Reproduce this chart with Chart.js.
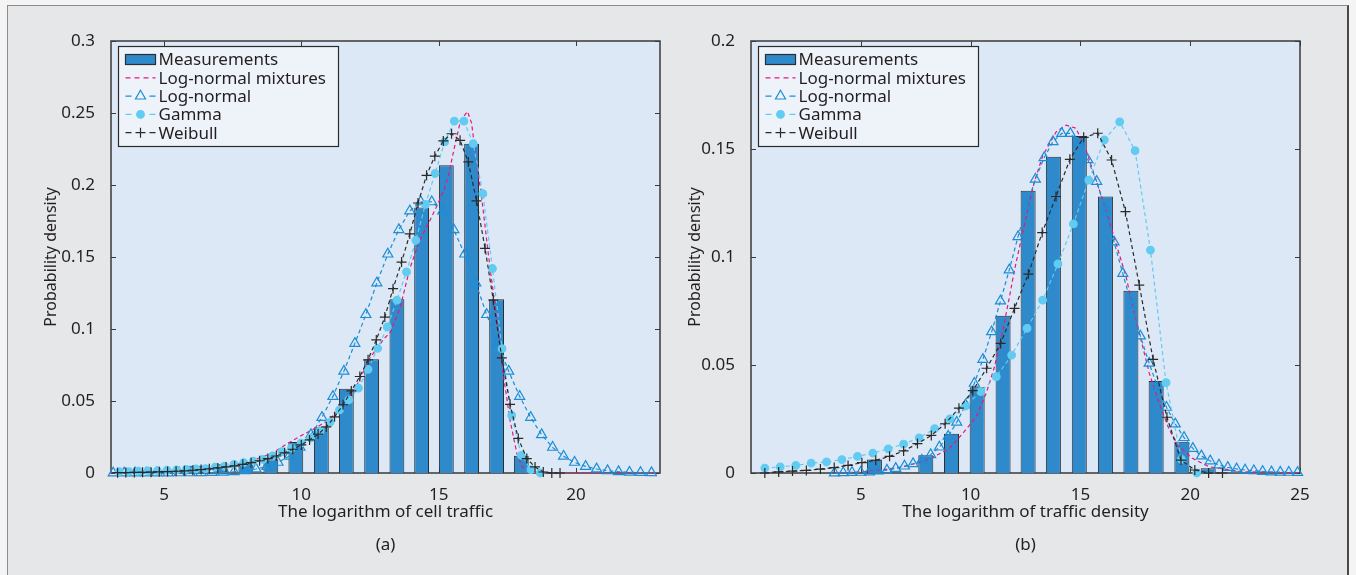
<!DOCTYPE html>
<html>
<head>
<meta charset="utf-8">
<title>Probability density fits</title>
<script src="https://cdn.jsdelivr.net/npm/chart.js@4.4.1/dist/chart.umd.min.js"></script>
<style>
  html, body { margin: 0; padding: 0; background: #f4f4f4; overflow: hidden; }
  #frame { position: absolute; left: 7px; top: 5px; width: 1339px; height: 620px;
           background: #e6e7e8; border: 1px solid #8c8c8c; border-right: 2px solid #4a4a4a; }
  canvas { position: absolute; top: 0; }
  #chartA { left: 20px; }
  #chartB { left: 680px; }
</style>
</head>
<body>
<div id="frame"></div>
<canvas id="chartA" width="660" height="575"></canvas>
<canvas id="chartB" width="640" height="575"></canvas>

<script>
// ---------- panel (a): cell traffic ----------
var xTicksA = [5, 10, 15, 20];
var yTicksA = [0, 0.05, 0.1, 0.15, 0.2, 0.25, 0.3];

var binsA = [3.42, 4.33, 5.24, 6.16, 7.07, 7.98, 8.89, 9.80, 10.73, 11.64, 12.56, 13.48, 14.38, 15.28, 16.20, 17.11, 18.01];
var measA = [0.0004, 0.0005, 0.0015, 0.005, 0.006, 0.007, 0.0095, 0.0215, 0.0317, 0.0585, 0.079, 0.1206, 0.1844, 0.2137, 0.2287, 0.1206, 0.012];

var mixA_x = [3.07, 4, 5, 6, 7, 7.5, 8, 8.5, 9, 9.5, 10, 10.5, 11, 11.5, 12, 12.5, 13, 13.25, 13.6, 13.95, 14.3, 14.7, 14.95, 15.2, 15.35, 15.55, 15.8, 16.05, 16.2, 16.4, 16.55, 16.75, 16.9, 17.1, 17.35, 17.6, 17.85, 18.05, 18.3, 18.6, 19, 20, 21, 22, 23.06];
var mixA_y = [0.0003, 0.0006, 0.0012, 0.0022, 0.004, 0.0055, 0.0075, 0.0105, 0.0145, 0.0205, 0.026, 0.031, 0.037, 0.046, 0.06, 0.08, 0.093, 0.098, 0.115, 0.142, 0.161, 0.176, 0.186, 0.197, 0.206, 0.224, 0.245, 0.251, 0.243, 0.2125, 0.194, 0.1616, 0.138, 0.110, 0.069, 0.0366, 0.0134, 0.004, 0.0012, 0.0003, 0, 0, 0, 0, 0];

var lnA_x = [3.15, 3.55, 3.95, 4.35, 4.75, 5.15, 5.55, 5.95, 6.35, 6.75, 7.15, 7.55, 7.95, 8.35, 8.75, 9.15, 9.55, 9.95, 10.35, 10.75, 11.15, 11.55, 11.95, 12.35, 12.75, 13.15, 13.55, 13.95, 14.35, 14.75, 15.15, 15.55, 15.95, 16.35, 16.75, 17.15, 17.55, 17.95, 18.35, 18.75, 19.15, 19.55, 19.95, 20.35, 20.75, 21.15, 21.55, 21.95, 22.35, 22.75];
var lnA_y = [0, 0, 0, 0, 0, 0, 0.0001, 0.0001, 0.0002, 0.0003, 0.0005, 0.0009, 0.0016, 0.0028, 0.0046, 0.0074, 0.0116, 0.0178, 0.0266, 0.0386, 0.0532, 0.0707, 0.090, 0.110, 0.132, 0.152, 0.169, 0.182, 0.1883, 0.1883, 0.182, 0.169, 0.152, 0.132, 0.110, 0.090, 0.0707, 0.0532, 0.0386, 0.0266, 0.0178, 0.0116, 0.0074, 0.0046, 0.0028, 0.0016, 0.0009, 0.0005, 0.0003, 0.0002];

var gamA_x = [3.37, 3.72, 4.07, 4.42, 4.76, 5.11, 5.46, 5.81, 6.16, 6.51, 6.86, 7.20, 7.55, 7.90, 8.25, 8.60, 8.95, 9.29, 9.64, 9.99, 10.34, 10.69, 11.04, 11.39, 11.73, 12.08, 12.43, 12.78, 13.13, 13.48, 13.83, 14.17, 14.52, 14.87, 15.22, 15.57, 15.92, 16.26, 16.61, 16.96, 17.31, 17.66, 18.01, 18.36, 18.70];
var gamA_y = [0.0009, 0.0009, 0.0012, 0.0014, 0.0016, 0.0020, 0.0022, 0.0025, 0.0028, 0.0031, 0.0040, 0.0047, 0.0060, 0.0072, 0.0082, 0.0095, 0.0118, 0.0148, 0.0173, 0.0208, 0.0243, 0.0293, 0.0351, 0.0439, 0.0508, 0.0590, 0.0720, 0.0866, 0.1014, 0.1200, 0.1396, 0.1616, 0.1866, 0.2080, 0.2300, 0.2444, 0.2444, 0.2287, 0.1940, 0.1420, 0.0863, 0.0400, 0.0123, 0.0023, 0];

var weiA_x = [3.31, 3.61, 3.92, 4.22, 4.53, 4.83, 5.13, 5.44, 5.74, 6.05, 6.35, 6.65, 6.96, 7.26, 7.57, 7.87, 8.17, 8.48, 8.78, 9.09, 9.39, 9.69, 10.00, 10.30, 10.61, 10.91, 11.21, 11.52, 11.82, 12.13, 12.43, 12.73, 13.04, 13.34, 13.65, 13.95, 14.25, 14.56, 14.86, 15.17, 15.47, 15.78, 16.08, 16.38, 16.69, 16.99, 17.30, 17.60, 17.90, 18.21, 18.51, 18.81, 19.12, 19.42];
var weiA_y = [0.0002, 0.0003, 0.0004, 0.0005, 0.0006, 0.0008, 0.0010, 0.0012, 0.0015, 0.0019, 0.0024, 0.0029, 0.0035, 0.0042, 0.0050, 0.0060, 0.0072, 0.0085, 0.0100, 0.0118, 0.0140, 0.0165, 0.0195, 0.0230, 0.0270, 0.0320, 0.0390, 0.0474, 0.0570, 0.0670, 0.0786, 0.0924, 0.1083, 0.1280, 0.1465, 0.1660, 0.1875, 0.2067, 0.2200, 0.2306, 0.2356, 0.2310, 0.2160, 0.1890, 0.1560, 0.1200, 0.0800, 0.0477, 0.0240, 0.0100, 0.0042, 0.0007, 0, 0];

// ---------- panel (b): traffic density ----------
var xTicksB = [5, 10, 15, 20, 25];
var yTicksB = [0, 0.05, 0.1, 0.15, 0.2];

var binsB = [4.45, 5.62, 6.79, 7.96, 9.13, 10.30, 11.48, 12.62, 13.77, 14.95, 16.14, 17.30, 18.45, 19.62, 20.82];
var measB = [0.0003, 0.0062, 0.0004, 0.0082, 0.0182, 0.0397, 0.0728, 0.1307, 0.1464, 0.1560, 0.1280, 0.0844, 0.0426, 0.0145, 0.0022];

var mixB_x = [3.8, 5, 6, 7, 8, 9, 9.65, 10.26, 10.71, 11.09, 11.44, 11.74, 12.0, 12.3, 12.6, 12.91, 13.29, 13.9, 14.35, 14.8, 15.26, 15.71, 16.17, 16.62, 17.08, 17.38, 17.76, 18.14, 18.59, 19.05, 19.5, 20.1, 20.86, 22.38, 24.9];
var mixB_y = [0, 0.0005, 0.0015, 0.003, 0.006, 0.011, 0.0184, 0.026, 0.0369, 0.0492, 0.0647, 0.080, 0.094, 0.108, 0.1218, 0.135, 0.147, 0.158, 0.161, 0.1596, 0.1495, 0.1356, 0.1218, 0.1063, 0.0909, 0.077, 0.0616, 0.0461, 0.0323, 0.0199, 0.0122, 0.0068, 0.0029, 0.0006, 0];

var lnB_x = [3.80, 4.20, 4.60, 5.00, 5.39, 5.79, 6.19, 6.59, 6.99, 7.38, 7.78, 8.18, 8.58, 8.98, 9.37, 9.77, 10.17, 10.56, 10.96, 11.36, 11.76, 12.16, 12.55, 12.95, 13.35, 13.75, 14.15, 14.54, 14.94, 15.34, 15.74, 16.14, 16.53, 16.93, 17.33, 17.73, 18.13, 18.52, 18.92, 19.32, 19.72, 20.12, 20.51, 20.91, 21.31, 21.71, 22.11, 22.50, 22.90, 23.30, 23.70, 24.10, 24.49, 24.89];
var lnB_y = [0, 0.0001, 0.0002, 0.0003, 0.0005, 0.0009, 0.0013, 0.0021, 0.0032, 0.0043, 0.0059, 0.0085, 0.0120, 0.0170, 0.0235, 0.0315, 0.0415, 0.0526, 0.0654, 0.0796, 0.0940, 0.1094, 0.1236, 0.1360, 0.1460, 0.1534, 0.1572, 0.1572, 0.1526, 0.1450, 0.1350, 0.1218, 0.1070, 0.0924, 0.0778, 0.0634, 0.0508, 0.0397, 0.0304, 0.0227, 0.0164, 0.0114, 0.0079, 0.0056, 0.0037, 0.0026, 0.0019, 0.0014, 0.0010, 0.0007, 0.0005, 0.0004, 0.0003, 0.0002];

var gamB_x = [0.63, 1.33, 2.04, 2.74, 3.44, 4.14, 4.85, 5.55, 6.25, 6.95, 7.66, 8.36, 9.06, 9.76, 10.47, 11.17, 11.87, 12.57, 13.28, 13.98, 14.68, 15.38, 16.09, 16.79, 17.49, 18.19, 18.90, 19.60, 20.30];
var gamB_y = [0.0023, 0.0028, 0.0035, 0.0046, 0.0051, 0.0062, 0.0077, 0.0092, 0.0112, 0.0134, 0.0163, 0.0205, 0.0251, 0.0310, 0.0377, 0.0446, 0.0546, 0.0670, 0.0800, 0.0968, 0.1153, 0.1356, 0.1542, 0.1626, 0.1492, 0.1032, 0.0418, 0.0063, 0];

var weiB_x = [0.63, 1.26, 1.89, 2.52, 3.16, 3.79, 4.42, 5.05, 5.68, 6.31, 6.95, 7.58, 8.21, 8.84, 9.47, 10.10, 10.73, 11.37, 12.00, 12.63, 13.26, 13.89, 14.52, 15.15, 15.79, 16.42, 17.05, 17.68, 18.31, 18.94, 19.58, 20.21, 20.84, 21.47];
var weiB_y = [0, 0.0005, 0.0009, 0.0012, 0.0018, 0.0025, 0.0035, 0.0048, 0.0059, 0.0077, 0.0102, 0.0136, 0.0174, 0.0228, 0.0300, 0.0381, 0.0485, 0.0600, 0.0762, 0.0921, 0.1113, 0.1280, 0.1452, 0.1554, 0.1573, 0.1449, 0.1210, 0.0870, 0.0526, 0.0258, 0.0060, 0.0014, 0, 0];

// ---------- drawing ----------
var FONT = "'Noto Sans', sans-serif";
var INK = '#231f20';
Chart.defaults.font.family = FONT;
Chart.defaults.color = INK;

function pts(xs, ys) {
    return xs.map(function(x, i) { return {x: x, y: ys[i]}; });
}

function lineSet(label, xs, ys, color, style, radius, fillPt, order) {
    return {
        type: 'line', label: label, data: pts(xs, ys), order: order,
        borderColor: color, borderWidth: 1.2, borderDash: [4, 3],
        pointStyle: style, pointRadius: radius, pointHoverRadius: radius,
        pointBorderColor: color, pointBackgroundColor: fillPt ? color : 'rgba(0,0,0,0)',
        pointBorderWidth: 1.2, fill: false, tension: 0, clip: false
    };
}

// plot background, box, inner ticks and legend, MATLAB style
var panelDecor = {
    id: 'panelDecor',
    beforeDraw: function(chart, args, opts) {
        var ctx = chart.ctx, a = chart.chartArea;
        ctx.save();
        ctx.fillStyle = '#dce8f5';
        ctx.fillRect(a.left, a.top, a.right - a.left, a.bottom - a.top);
        ctx.restore();
    },
    beforeDatasetsDraw: function(chart, args, opts) {
        var ctx = chart.ctx, a = chart.chartArea;
        var xs = chart.scales.x, ys = chart.scales.y;
        ctx.save();
        ctx.strokeStyle = '#3a3a3a';
        ctx.lineWidth = 1;
        ctx.beginPath();
        opts.xTicks.forEach(function(v) {
            var px = Math.round(xs.getPixelForValue(v)) + 0.5;
            ctx.moveTo(px, a.bottom); ctx.lineTo(px, a.bottom - 5);
            ctx.moveTo(px, a.top); ctx.lineTo(px, a.top + 5);
        });
        opts.yTicks.forEach(function(v) {
            var py = Math.round(ys.getPixelForValue(v)) + 0.5;
            ctx.moveTo(a.left, py); ctx.lineTo(a.left + 5, py);
            ctx.moveTo(a.right, py); ctx.lineTo(a.right - 5, py);
        });
        ctx.stroke();
        ctx.lineWidth = 1.5;
        ctx.strokeRect(a.left, a.top, a.right - a.left, a.bottom - a.top);
        ctx.restore();
    },
    afterDatasetsDraw: function(chart, args, opts) {
        var ctx = chart.ctx, a = chart.chartArea;
        var bx = Math.round(a.left + 7) + 0.5, by = Math.round(a.top + 5) + 0.5, bw = 220, bh = 100;
        ctx.save();
        ctx.fillStyle = '#eef3fa';
        ctx.fillRect(bx, by, bw, bh);
        ctx.strokeStyle = '#2b2b2b';
        ctx.lineWidth = 1.2;
        ctx.strokeRect(bx, by, bw, bh);
        ctx.font = '17px ' + FONT;
        ctx.textBaseline = 'middle';
        chart.data.datasets.forEach(function(ds, i) {
            var cy = by + 13 + i * 18.3;
            var x0 = bx + 7, x1 = bx + 37;
            if (ds.type === 'bar') {
                ctx.fillStyle = ds.backgroundColor;
                ctx.fillRect(x0, cy - 5, 30, 10);
                ctx.strokeStyle = ds.borderColor;
                ctx.lineWidth = 1.2;
                ctx.strokeRect(x0, cy - 5, 30, 10);
            } else {
                ctx.strokeStyle = ds.borderColor;
                ctx.lineWidth = ds.borderWidth;
                ctx.beginPath();
                if (ds.pointRadius > 0) {
                    ctx.moveTo(x0, cy); ctx.lineTo(x0 + 6, cy);
                    ctx.moveTo(x1 - 6, cy); ctx.lineTo(x1, cy);
                } else {
                    ctx.setLineDash([5, 4]);
                    ctx.moveTo(x0, cy); ctx.lineTo(x1, cy);
                }
                ctx.stroke();
                ctx.setLineDash([]);
                if (ds.pointRadius > 0) {
                    ctx.fillStyle = ds.pointBackgroundColor;
                    ctx.strokeStyle = ds.pointBorderColor;
                    ctx.lineWidth = ds.pointBorderWidth;
                    Chart.helpers.drawPoint(ctx, {pointStyle: ds.pointStyle, radius: ds.pointRadius,
                        rotation: 0, borderWidth: ds.pointBorderWidth}, (x0 + x1) / 2, cy);
                }
            }
            ctx.fillStyle = INK;
            ctx.fillText(ds.label, bx + 40, cy + 1);
        });
        ctx.restore();
    }
};

function makePanel(id, p) {
    var datasets = [
        {type: 'bar', label: 'Measurements', data: pts(p.bins, p.meas), order: 10,
         backgroundColor: '#2f8acb', borderColor: '#2e2e2e', borderWidth: 1,
         barPercentage: 0.6, categoryPercentage: 1},
        lineSet('Log-normal mixtures', p.mix_x, p.mix_y, '#e8177d', 'circle', 0, false, 4),
        lineSet('Log-normal', p.ln_x, p.ln_y, '#1b8dd6', 'triangle', 5.8, false, 3),
        lineSet('Gamma', p.gam_x, p.gam_y, '#62cbf2', 'circle', 3.8, true, 2),
        lineSet('Weibull', p.wei_x, p.wei_y, '#2a2a2a', 'cross', 5, false, 1)
    ];
    return new Chart(document.getElementById(id), {
        type: 'bar',
        data: {datasets: datasets},
        plugins: [panelDecor],
        options: {
            responsive: false,
            animation: false,
            events: [],
            layout: {padding: {top: 41, right: 20, left: 0, bottom: 0}},
            plugins: {
                legend: {display: false},
                tooltip: {enabled: false},
                panelDecor: {xTicks: p.xTicks, yTicks: p.yTicks}
            },
            scales: {
                x: {
                    type: 'linear', min: p.xMin, max: p.xMax, offset: false,
                    grid: {display: false}, border: {display: false},
                    afterBuildTicks: function(s) { s.ticks = p.xTicks.map(function(v) { return {value: v}; }); },
                    afterFit: function(s) { s.height = 102; },
                    ticks: {font: {size: 17}, padding: 4, maxRotation: 0, autoSkip: false,
                            callback: function(v) { return String(v); }},
                    title: {display: true, text: [p.xTitle, p.tag],
                            font: {size: 17, lineHeight: '33px'}, padding: {top: 0, bottom: 13}}
                },
                y: {
                    type: 'linear', min: 0, max: p.yMax,
                    grid: {display: false}, border: {display: false},
                    afterBuildTicks: function(s) { s.ticks = p.yTicks.map(function(v) { return {value: v}; }); },
                    afterFit: function(s) { s.width = p.yWidth; },
                    ticks: {font: {size: 17}, padding: 8, callback: function(v) { return String(v); }},
                    title: {display: true, text: 'Probability density',
                            font: {size: 16}, padding: {top: p.yTitlePad, bottom: 0}}
                }
            }
        }
    });
}

makePanel('chartA', {
    bins: binsA, meas: measA, mix_x: mixA_x, mix_y: mixA_y, ln_x: lnA_x, ln_y: lnA_y,
    gam_x: gamA_x, gam_y: gamA_y, wei_x: weiA_x, wei_y: weiA_y,
    xTicks: xTicksA, yTicks: yTicksA, xMin: 3.07, xMax: 23.06, yMax: 0.3,
    xTitle: 'The logarithm of cell traffic', tag: '(a)', yWidth: 91, yTitlePad: 22
});

makePanel('chartB', {
    bins: binsB, meas: measB, mix_x: mixB_x, mix_y: mixB_y, ln_x: lnB_x, ln_y: lnB_y,
    gam_x: gamB_x, gam_y: gamB_y, wei_x: weiB_x, wei_y: weiB_y,
    xTicks: xTicksB, yTicks: yTicksB, xMin: 0, xMax: 25, yMax: 0.2,
    xTitle: 'The logarithm of traffic density', tag: '(b)', yWidth: 71, yTitlePad: 6
});
</script>
</body>
</html>
